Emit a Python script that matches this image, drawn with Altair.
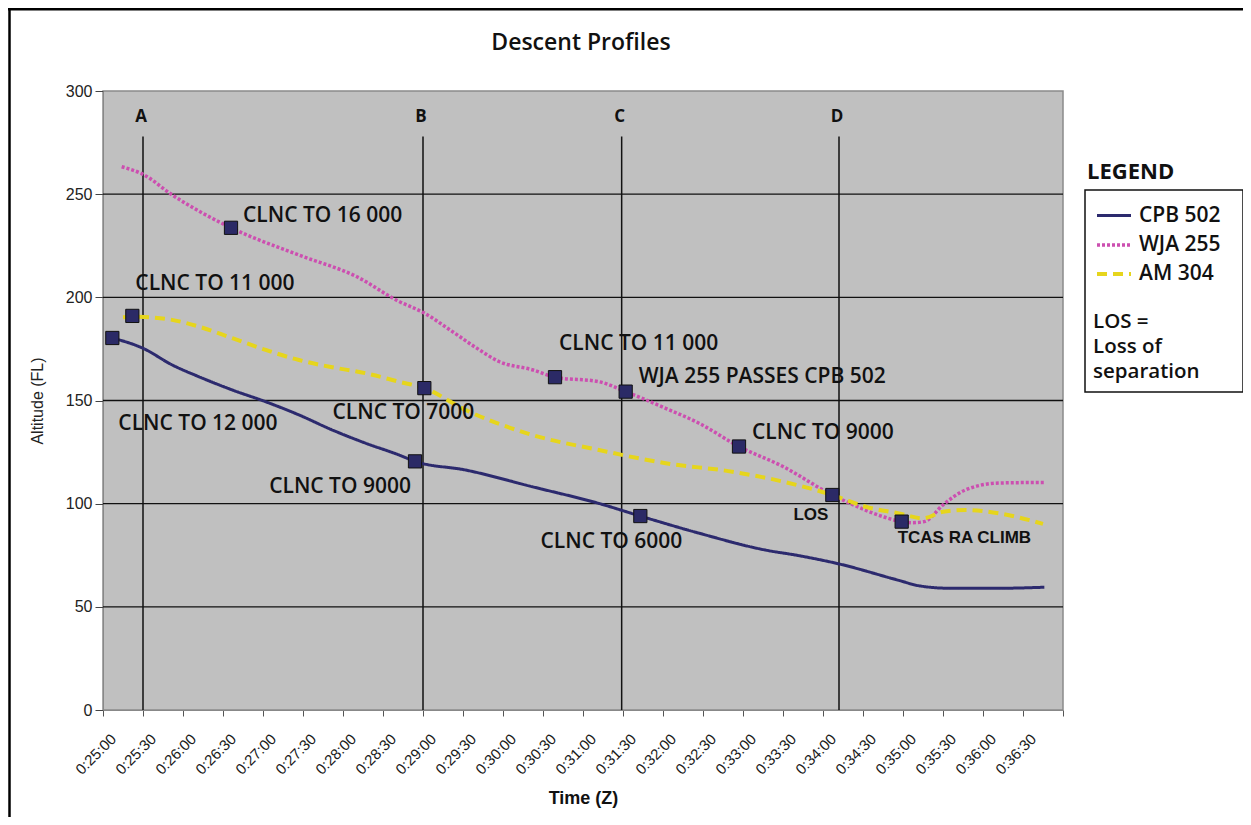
import altair as alt
import pandas as pd

# ---------------- data (time in seconds of the day, altitude in FL) ----------------
series_names = ["CPB 502", "WJA 255", "AM 304"]
series_colors = ["#2c2a6e", "#cc4fb0", "#e6d51c"]

cpb_t = [1507, 1530, 1552, 1572, 1597, 1622, 1647, 1672, 1697, 1722, 1734, 1772, 1822,
         1872, 1903, 1947, 1997, 2022, 2052, 2097, 2112, 2135, 2172, 2206]
cpb_alt = [180.3, 175.3, 167.2, 161.5, 155.1, 149.4, 143.0, 135.7, 129.3, 123.6, 120.5, 116.3, 108.2,
           100.1, 94.0, 85.7, 77.5, 74.8, 70.8, 62.8, 60.2, 59.0, 59.0, 59.5]

wja_t = [1514, 1530, 1552, 1596, 1647, 1690, 1722, 1741, 1760, 1780, 1797, 1822, 1839, 1872,
         1892, 1922, 1947, 1977, 2010, 2047, 2060, 2085, 2099, 2107, 2116, 2130, 2147, 2172, 2206]
wja_alt = [263.3, 259.6, 249.6, 233.7, 220.5, 210.1, 198.0, 192.4, 184.3, 175.5, 168.9, 164.9, 161.3, 159.1,
           154.3, 146.2, 139.0, 127.7, 118.0, 104.2, 100.2, 93.7, 91.3, 90.8, 91.3, 99.4, 106.7, 110.0, 110.3]

am_t = [1515, 1522, 1535, 1550, 1572, 1597, 1622, 1647, 1672, 1697, 1722, 1741, 1772, 1822,
        1872, 1922, 1972, 2010, 2047, 2072, 2097, 2115, 2130, 2147, 2172, 2205]
am_alt = [190.3, 190.6, 190.3, 189.3, 185.8, 180.2, 174.5, 169.6, 166.1, 163.2, 159.1, 156.0, 145.4, 133.3,
          126.0, 119.6, 115.5, 110.7, 104.2, 98.5, 95.3, 92.9, 96.1, 96.9, 95.3, 90.2]

# event markers
mk_series = ["CPB 502", "AM 304", "WJA 255", "CPB 502", "AM 304", "WJA 255",
             "WJA 255", "CPB 502", "WJA 255", "WJA 255", "WJA 255"]
mk_t = [1507, 1522, 1596, 1734, 1741, 1839, 1892, 1903, 1977, 2047, 2099]
mk_alt = [180.3, 191.0, 233.7, 120.5, 156.0, 161.3, 154.3, 94.0, 127.7, 104.2, 91.3]
mk_label = ["CLNC TO 12 000", "CLNC TO 11 000", "CLNC TO 16 000", "CLNC TO 9000", "CLNC TO 7000",
            "CLNC TO 11 000", "WJA 255 PASSES CPB 502", "CLNC TO 6000", "CLNC TO 9000", "LOS",
            "TCAS RA CLIMB"]

# reference lines A-D
ev_label = ["A", "B", "C", "D"]
ev_t = [1530, 1740, 1889, 2052]
ev_top = 278
ev_label_alt = 287.5

grid_alt = [50, 100, 150, 200, 250]
y_ticks = [0, 50, 100, 150, 200, 250, 300]
x_ticks = list(range(1500, 2221, 30))

chart_title = "Descent Profiles"
legend_title = "LEGEND"
legend_note = ["LOS =", "Loss of", "separation"]

# ---------------- label styling (offsets in px) ----------------
BIG = ("Open Sans", 21, 600)
SMALL = ("Liberation Sans", 17, "bold")
label_style = [
    (6, 86, "left", BIG),
    (3, -32, "left", BIG),
    (12, -12, "left", BIG),
    (-4, 26, "right", BIG),
    (50, 25, "right", BIG),
    (4, -33, "left", BIG),
    (13, -15, "left", BIG),
    (42, 26, "right", BIG),
    (13, -14, "left", BIG),
    (-4, 20, "right", SMALL),
    (-4, 16, "left", SMALL),
]

W, H = 960, 619
PAD = {"left": 95, "top": 83, "right": 180, "bottom": 107}

lines_df = pd.DataFrame({
    "t": cpb_t + wja_t + am_t,
    "alt": cpb_alt + wja_alt + am_alt,
    "series": ["CPB 502"] * len(cpb_t) + ["WJA 255"] * len(wja_t) + ["AM 304"] * len(am_t),
})
mk_df = pd.DataFrame({"t": mk_t, "alt": mk_alt, "label": mk_label, "series": mk_series})
ev_df = pd.DataFrame({"t": ev_t, "label": ev_label})
grid_df = pd.DataFrame({"alt": grid_alt})
one = pd.DataFrame({"k": [0]})

xscale = alt.Scale(domain=[1500, 2220], nice=False, zero=False)
yscale = alt.Scale(domain=[0, 300], nice=False)

label_expr = ("datum.value >= 2220 ? '' : '0:' + floor(datum.value / 60) + ':' + "
              "(datum.value % 60 < 10 ? '0' : '') + (datum.value % 60)")

x_axis = alt.Axis(
    values=x_ticks, labelExpr=label_expr, labelAngle=315, labelAlign="right",
    labelBaseline="middle", labelFont="Liberation Sans", labelFontSize=15, labelColor="#1a1a1a",
    labelPadding=20, labelOffset=10, labelOverlap=False, labelFlush=False, labelBound=False,
    tickSize=6, tickColor="#555", domainColor="#888", grid=False,
    title="Time (Z)", titleFont="Liberation Sans", titleFontSize=18, titleFontWeight="bold",
    titleColor="#111", titlePadding=12)
y_axis = alt.Axis(
    values=y_ticks, grid=False, tickSize=8, tickColor="#444", labelPadding=3,
    labelFont="Liberation Sans", labelFontSize=16, labelColor="#222", domainColor="#888",
    title="Altitude (FL)", titleFont="Liberation Sans", titleFontSize=16,
    titleFontWeight="normal", titleColor="#222", titlePadding=20)


def X(field="t:Q"):
    return alt.X(field, scale=xscale, axis=x_axis)


def Y(field="alt:Q"):
    return alt.Y(field, scale=yscale, axis=y_axis)


leg = alt.Legend(title=None, orient="none", legendX=992, legendY=106, symbolType="stroke",
                 symbolSize=1156, symbolStrokeWidth=3, labelFont="Open Sans", labelFontSize=21,
                 labelFontWeight=600, labelColor="#111", rowPadding=-10, labelOffset=6, padding=0)

grid = alt.Chart(grid_df).mark_rule(color="#111", strokeWidth=1.3).encode(y=Y())

events = alt.Chart(ev_df).mark_rule(color="#111", strokeWidth=1.5).encode(
    x=X(), y=alt.datum(0), y2=alt.datum(ev_top))
ev_text = alt.Chart(ev_df).mark_text(font="Open Sans", fontSize=17, fontWeight="bold",
                                     color="#111", dx=-2, baseline="middle").encode(
    x=X(), y=alt.datum(ev_label_alt), text="label:N")

lines = alt.Chart(lines_df).mark_line(interpolate="monotone").encode(
    x=X(), y=Y(),
    color=alt.Color("series:N", scale=alt.Scale(domain=series_names, range=series_colors), legend=leg),
    strokeDash=alt.StrokeDash("series:N", scale=alt.Scale(domain=series_names,
                                                          range=[[1, 0], [3, 2], [10, 6]]), legend=leg),
    strokeWidth=alt.StrokeWidth("series:N", scale=alt.Scale(domain=series_names, range=[3, 4, 3]),
                                legend=None),
    order="t:Q",
)

markers = alt.Chart(mk_df).mark_point(shape="square", filled=True, fill="#2b2a66", stroke="#111",
                                      strokeWidth=1, opacity=1, size=175).encode(x=X(), y=Y())

texts = []
for i, (dx, dy, align, (font, size, weight)) in enumerate(label_style):
    texts.append(alt.Chart(mk_df.iloc[[i]]).mark_text(
        dx=dx, dy=dy, align=align, baseline="middle", font=font, fontSize=size,
        fontWeight=weight, color="#111").encode(x=X(), y=Y(), text="label:N"))

# title and legend decoration
title_mark = alt.Chart(one).mark_text(text=chart_title, font="Open Sans", fontSize=23, fontWeight=600,
                                      align="center", baseline="middle", color="#111").encode(
    x=alt.value(W / 2 - 2), y=alt.value(-48))
leg_box = alt.Chart(one).mark_rect(fill=None, stroke="#111", strokeWidth=1.5).encode(
    x=alt.value(982), x2=alt.value(1140), y=alt.value(99), y2=alt.value(301))
leg_title = alt.Chart(one).mark_text(text=legend_title, font="Open Sans", fontSize=22, fontWeight="bold",
                                     align="left", baseline="alphabetic", color="#111").encode(
    x=alt.value(984), y=alt.value(88))
note_layers = []
for txt, yy in zip(legend_note, [237, 262, 287]):
    note_layers.append(alt.Chart(one).mark_text(text=txt, font="Open Sans", fontSize=20.5, fontWeight=600,
                                                align="left", baseline="alphabetic", color="#111").encode(
        x=alt.value(990), y=alt.value(yy)))

frame_top = alt.Chart(one).mark_rule(color="#000", strokeWidth=3).encode(
    x=alt.value(-95), x2=alt.value(1145), y=alt.value(-82))
frame_left = alt.Chart(one).mark_rule(color="#000", strokeWidth=2.5).encode(
    x=alt.value(-93.5), y=alt.value(-83), y2=alt.value(730))

chart = alt.layer(
    events, grid, ev_text, lines, markers, *texts, title_mark, leg_box, leg_title, *note_layers,
    frame_top, frame_left
).properties(
    width=W, height=H,
    autosize=alt.AutoSizeParams(type="none"),
    padding=PAD,
    background="white",
).configure_view(fill="#c0c0c0", stroke="#8a8a8a", strokeWidth=1.5)

chart.save("out.html", embed_options={"renderer": "svg", "actions": False})
